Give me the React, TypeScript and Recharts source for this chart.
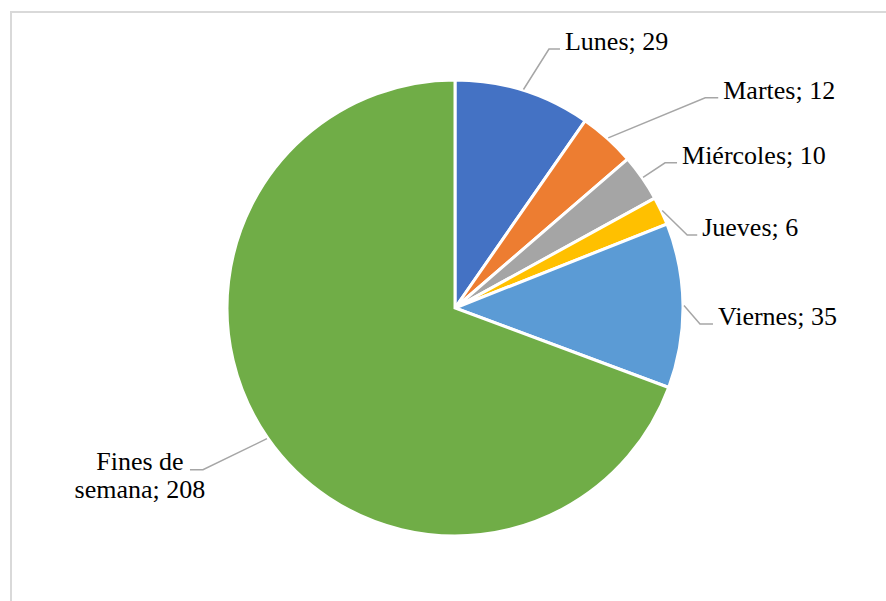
import React from 'react';
import { PieChart, Pie, Cell } from 'recharts';

const categories = ['Lunes', 'Martes', 'Miércoles', 'Jueves', 'Viernes', 'Fines de semana'];
const values = [29, 12, 10, 6, 35, 208];
const colors = ['#4472C4', '#ED7D31', '#A5A5A5', '#FFC000', '#5B9BD5', '#70AD47'];
// label text lines per slice
const labelLines = [
  ['Lunes; 29'],
  ['Martes; 12'],
  ['Miércoles; 10'],
  ['Jueves; 6'],
  ['Viernes; 35'],
  ['Fines de', 'semana; 208'],
];
// leader layout: elbow offset from slice edge, horizontal run length
const leaderLayout = [
  { dx: 25.5, dy: -40.5, h: 11 },
  { dx: 97, dy: -40, h: 13 },
  { dx: 22, dy: -14.5, h: 12 },
  { dx: 25, dy: 24.5, h: 10 },
  { dx: 16, dy: 18.5, h: 13 },
  { dx: -64, dy: 31, h: -13 },
];

const data = categories.map((name, i) => ({ name, value: values[i] }));

const RAD = Math.PI / 180;
const FONT = "'Liberation Serif', 'Times New Roman', serif";
const textStyle: React.CSSProperties = { fontFamily: FONT, fontSize: 26, fill: '#000' };

const renderLabel = (props: any) => {
  const { cx, cy, midAngle, outerRadius, index } = props;
  const r = outerRadius + 1;
  const sx = cx + r * Math.cos(-midAngle * RAD);
  const sy = cy + r * Math.sin(-midAngle * RAD);
  const lay = leaderLayout[index];
  const ex = sx + lay.dx;
  const ey = sy + lay.dy;
  const hx = ex + lay.h;
  const lines = labelLines[index];
  const left = lay.h < 0;
  return (
    <g key={`lbl-${index}`}>
      <polyline
        points={`${sx},${sy} ${ex},${ey} ${hx},${ey}`}
        fill="none"
        stroke="#A6A6A6"
        strokeWidth={1.5}
      />
      {left ? (
        <text x={hx - 50} y={ey} textAnchor="middle" style={textStyle}>
          {lines.map((t, k) => (
            <tspan key={k} x={hx - 50} dy={k === 0 ? 0 : 28}>
              {t}
            </tspan>
          ))}
        </text>
      ) : (
        <text x={hx + 5} y={ey + 1} textAnchor="start" style={textStyle}>
          {lines[0]}
        </text>
      )}
    </g>
  );
};

export default function App() {
  return (
    <div
      style={{
        position: 'absolute',
        left: 0,
        top: 0,
        width: 886,
        height: 601,
        overflow: 'hidden',
        background: '#fff',
        fontFamily: FONT,
      }}
    >
      <div
        style={{
          position: 'absolute',
          left: 10,
          top: 11,
          width: 900,
          height: 620,
          border: '2px solid #D9D9D9',
          boxSizing: 'border-box',
        }}
      />
      <div style={{ position: 'absolute', left: 0, top: 0 }}>
        <PieChart width={886} height={601} margin={{ top: 0, right: 0, bottom: 0, left: 0 }} style={{ fontFamily: FONT }}>
          <Pie
            data={data}
            dataKey="value"
            nameKey="name"
            cx={455}
            cy={308}
            outerRadius={228}
            startAngle={90}
            endAngle={-270}
            stroke="#FFFFFF"
            strokeWidth={3}
            label={renderLabel}
            labelLine={false}
            isAnimationActive={false}
          >
            {data.map((d, i) => (
              <Cell key={d.name} fill={colors[i]} />
            ))}
          </Pie>
        </PieChart>
      </div>
    </div>
  );
}
